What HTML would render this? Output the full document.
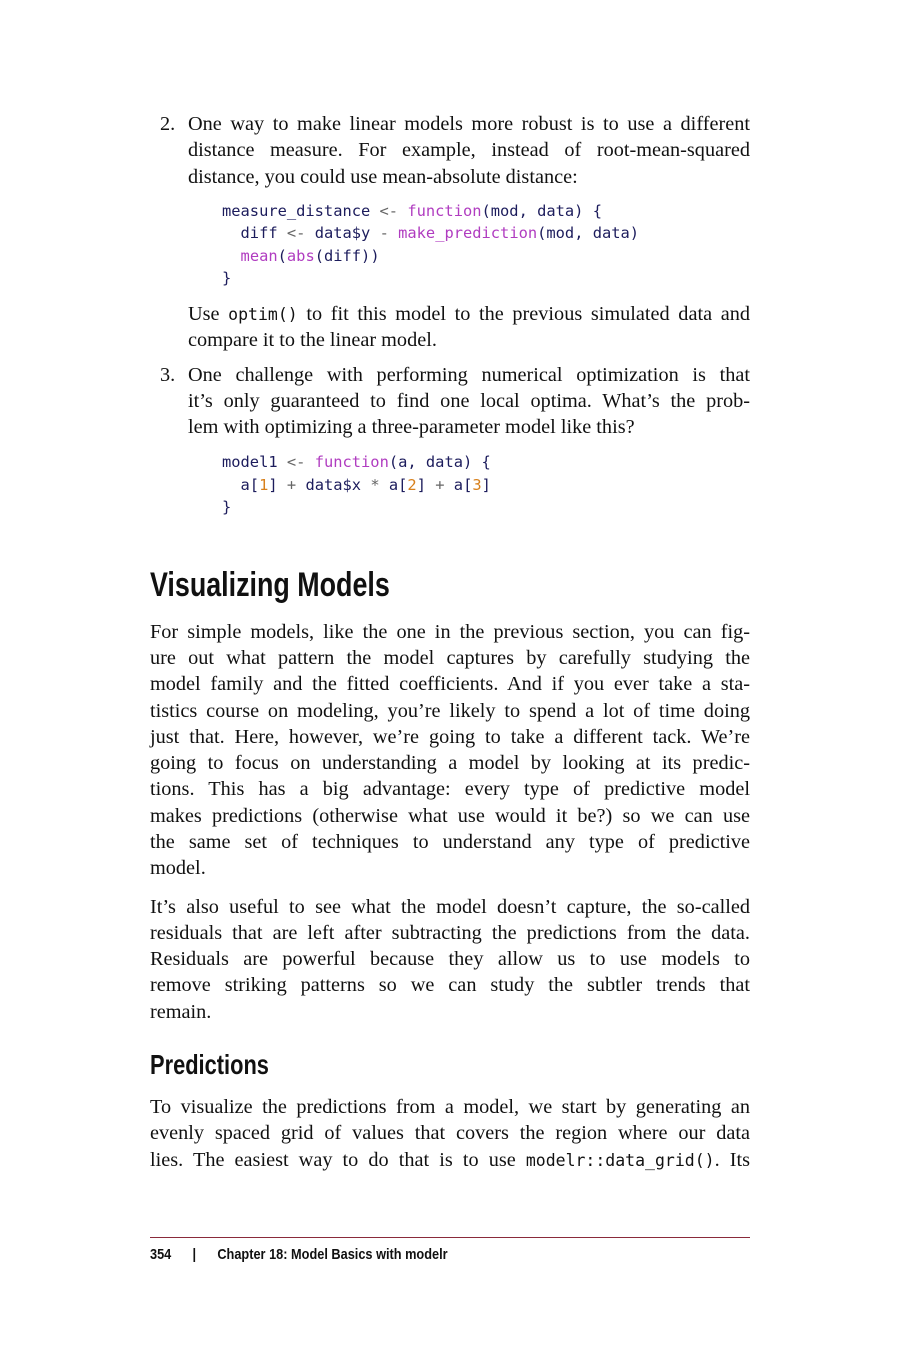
<!DOCTYPE html>
<html><head><meta charset="utf-8"><style>
body{margin:0;background:#fff;}
#p{position:relative;width:900px;height:1350px;overflow:hidden;font-family:"Liberation Serif",serif;font-size:20.3px;color:#111;}
.l{position:absolute;left:150px;width:600px;height:26px;line-height:26px;white-space:nowrap;text-align:justify;text-align-last:justify;}
.i{left:188px;width:562px;}
.e{text-align-last:left;}
.n{position:absolute;left:160px;height:26px;line-height:26px;}
.c{position:absolute;left:222px;font-family:"DejaVu Sans Mono",monospace;font-size:15.4px;line-height:22px;height:22px;white-space:pre;color:#1c1c5c;}
.f{color:#b03cc0}.o{color:#666}.d{color:#d8801c}
.m{font-family:"DejaVu Sans Mono",monospace;font-size:16.5px;}
h1,h2{position:absolute;left:150px;margin:0;font-family:"Liberation Sans",sans-serif;font-weight:bold;transform-origin:0 50%;white-space:nowrap;color:#111;}
</style></head><body><div id="p">
<div class="n" style="top:111px">2.</div>
<div class="l i" style="top:111px">One way to make linear models more robust is to use a different</div>
<div class="l i" style="top:137px">distance measure. For example, instead of root-mean-squared</div>
<div class="l i e" style="top:164px">distance, you could use mean-absolute distance:</div>
<div class="c" style="top:200px">measure_distance <span class="o">&lt;-</span> <span class="f">function</span>(mod, data) {</div>
<div class="c" style="top:222px">  diff <span class="o">&lt;-</span> data$y <span class="o">-</span> <span class="f">make_prediction</span>(mod, data)</div>
<div class="c" style="top:245px">  <span class="f">mean</span>(<span class="f">abs</span>(diff))</div>
<div class="c" style="top:267px">}</div>
<div class="l i" style="top:301px">Use <span class="m">optim()</span> to fit this model to the previous simulated data and</div>
<div class="l i e" style="top:327px">compare it to the linear model.</div>
<div class="n" style="top:362px">3.</div>
<div class="l i" style="top:362px">One challenge with performing numerical optimization is that</div>
<div class="l i" style="top:388px">it’s only guaranteed to find one local optima. What’s the prob-</div>
<div class="l i e" style="top:414px">lem with optimizing a three-parameter model like this?</div>
<div class="c" style="top:451px">model1 <span class="o">&lt;-</span> <span class="f">function</span>(a, data) {</div>
<div class="c" style="top:474px">  a[<span class="d">1</span>] <span class="o">+</span> data$x <span class="o">*</span> a[<span class="d">2</span>] <span class="o">+</span> a[<span class="d">3</span>]</div>
<div class="c" style="top:496px">}</div>
<h1 style="top:565px;font-size:34px;line-height:40px;transform:scaleX(0.79)">Visualizing Models</h1>
<div class="l" style="top:619px">For simple models, like the one in the previous section, you can fig-</div>
<div class="l" style="top:645px">ure out what pattern the model captures by carefully studying the</div>
<div class="l" style="top:671px">model family and the fitted coefficients. And if you ever take a sta-</div>
<div class="l" style="top:698px">tistics course on modeling, you’re likely to spend a lot of time doing</div>
<div class="l" style="top:724px">just that. Here, however, we’re going to take a different tack. We’re</div>
<div class="l" style="top:750px">going to focus on understanding a model by looking at its predic-</div>
<div class="l" style="top:776px">tions. This has a big advantage: every type of predictive model</div>
<div class="l" style="top:803px">makes predictions (otherwise what use would it be?) so we can use</div>
<div class="l" style="top:829px">the same set of techniques to understand any type of predictive</div>
<div class="l e" style="top:855px">model.</div>
<div class="l" style="top:894px">It’s also useful to see what the model doesn’t capture, the so-called</div>
<div class="l" style="top:920px">residuals that are left after subtracting the predictions from the data.</div>
<div class="l" style="top:946px">Residuals are powerful because they allow us to use models to</div>
<div class="l" style="top:972px">remove striking patterns so we can study the subtler trends that</div>
<div class="l e" style="top:999px">remain.</div>
<h2 style="top:1048px;font-size:28px;line-height:34px;transform:scaleX(0.78)">Predictions</h2>
<div class="l" style="top:1094px">To visualize the predictions from a model, we start by generating an</div>
<div class="l" style="top:1120px">evenly spaced grid of values that covers the region where our data</div>
<div class="l" style="top:1147px">lies. The easiest way to do that is to use <span class="m">modelr::data_grid()</span>. Its</div>
<div style="position:absolute;left:150px;top:1237px;width:600px;height:1px;background:#8a2a3a"></div>
<div style="position:absolute;left:150px;top:1245px;font-family:'Liberation Sans',sans-serif;font-weight:bold;font-size:15px;line-height:20px;white-space:nowrap;transform:scaleX(0.85);transform-origin:0 50%;">354&nbsp;&nbsp;&nbsp;&nbsp;&nbsp;&nbsp;|&nbsp;&nbsp;&nbsp;&nbsp;&nbsp;&nbsp;Chapter 18: Model Basics with modelr</div>
</div></body></html>
